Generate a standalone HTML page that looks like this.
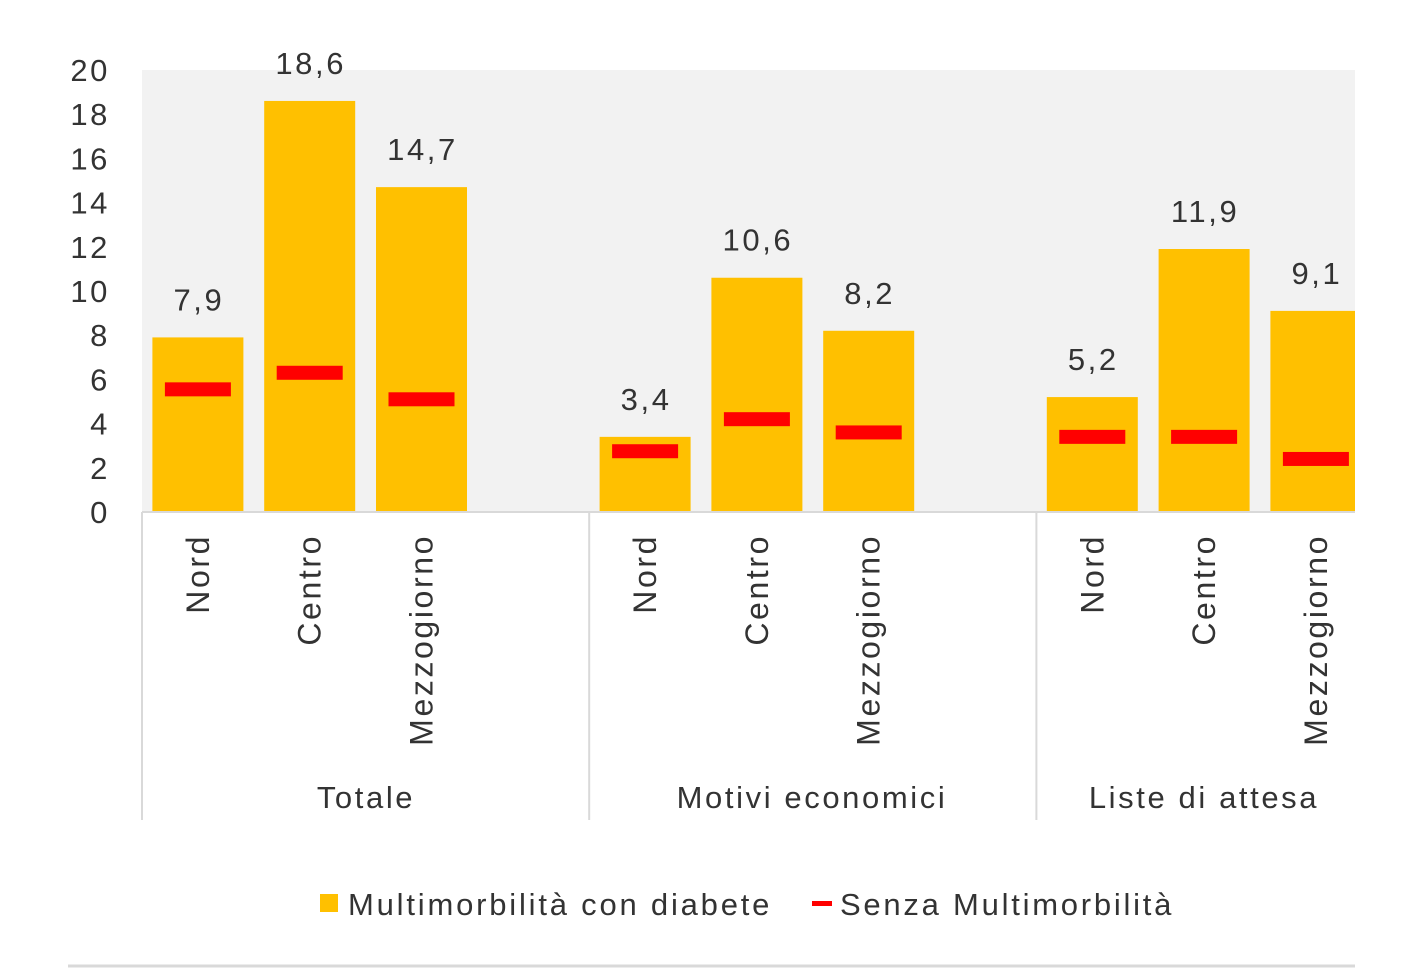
<!DOCTYPE html>
<html><head><meta charset="utf-8"><style>
body{margin:0;background:#fff;}
text{font-family:"Liberation Sans",Arial,sans-serif;fill:#333;letter-spacing:2.6px;}
</style></head><body>
<svg width="1428" height="973">
<defs><clipPath id="pc"><rect x="142" y="60" width="1213" height="460"/></clipPath></defs>
<rect x="142" y="70" width="1213" height="442" fill="#f2f2f2"/>
<g id="yaxis"></g>
<g id="bars" clip-path="url(#pc)"></g>
<g id="xaxis"></g>
<g>
<rect x="320" y="894" width="18" height="18" fill="#ffc000"/>
<text x="348" y="915" font-size="31" textLength="424">Multimorbilità con diabete</text>
<rect x="812" y="901" width="20" height="5" fill="#ff0000"/>
<text x="840" y="915" font-size="31" textLength="334">Senza Multimorbilità</text>
</g>
<line x1="68" y1="966" x2="1355" y2="966" stroke="#d9d9d9" stroke-width="3"/>
</svg>
<script>
const groups=["Totale","Motivi economici","Liste di attesa"];
const regions=["Nord","Centro","Mezzogiorno"];
const barValues=[7.9,18.6,14.7,3.4,10.6,8.2,5.2,11.9,9.1];
const barLabels=["7,9","18,6","14,7","3,4","10,6","8,2","5,2","11,9","9,1"];
const senzaValues=[5.55,6.3,5.1,2.75,4.2,3.6,3.4,3.4,2.4];
const yTicks=[0,2,4,6,8,10,12,14,16,18,20];
const NS="http://www.w3.org/2000/svg";
const y0=512,yTop=70,ymax=20,x0=142,slot=111.8;
const Y=v=>y0-(v/ymax)*(y0-yTop);
const X=i=>x0+(Math.floor(i/3)*4+(i%3))*slot+slot/2;
function mk(p,tag,at){const e=document.createElementNS(NS,tag);for(const k in at)e.setAttribute(k,at[k]);p.appendChild(e);return e;}
const ya=document.getElementById('yaxis');
yTicks.forEach(t=>{const e=mk(ya,'text',{x:110,y:Y(t)+11,'font-size':31,'text-anchor':'end'});e.textContent=t;

});
const b=document.getElementById('bars');
barValues.forEach((v,i)=>{const cx=X(i);
const r=mk(b,'rect',{x:cx-45.5,y:Y(v),width:91,height:y0-Y(v),fill:'#ffc000'});


const m=mk(b,'rect',{x:cx-33,y:Y(senzaValues[i])-7,width:66,height:14,fill:'#ff0000'});


const t=mk(b.parentNode,'text',{x:cx+1,y:Y(v)-27,'font-size':31,'text-anchor':'middle'});t.textContent=barLabels[i];

});
const xa=document.getElementById('xaxis');
mk(xa,'line',{x1:142,y1:512,x2:1355,y2:512,stroke:'#d9d9d9','stroke-width':2});
const groupCenters=[366,812,1204];
groups.forEach((g,gi)=>{const gx=x0+gi*4*slot;
const l=mk(xa,'line',{x1:gx,y1:512,x2:gx,y2:820,stroke:'#d9d9d9','stroke-width':2});


const gt=mk(xa,'text',{x:groupCenters[gi],y:808,'font-size':31,'text-anchor':'middle'});gt.textContent=g;


regions.forEach((r,ri)=>{const cx=X(gi*3+ri);
const t=mk(xa,'text',{x:0,y:0,'font-size':32,'text-anchor':'end',transform:`translate(${cx+11},534) rotate(-90)`});t.textContent=r;

});});
</script>
</body></html>
